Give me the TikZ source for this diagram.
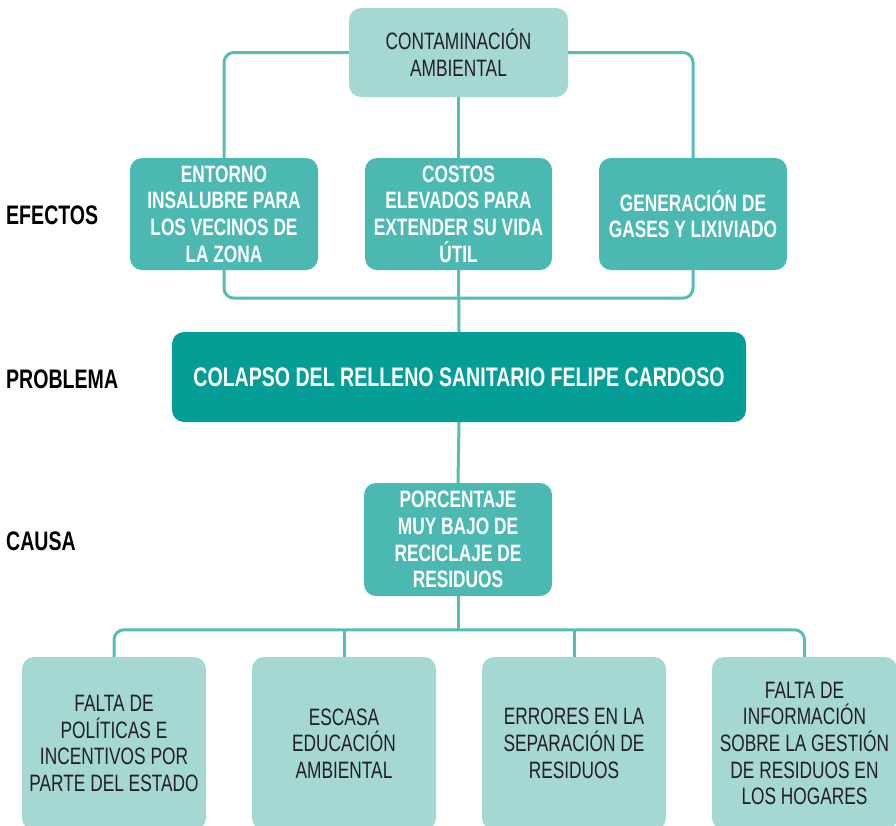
\documentclass[tikz,border=0pt]{standalone}
\usepackage{fontspec}
\setmainfont{Liberation Sans}[FakeStretch=0.73]
\definecolor{lightteal}{HTML}{A6D8D3}
\definecolor{midteal}{HTML}{4BB9B2}
\definecolor{darkteal}{HTML}{049E96}
\definecolor{linecol}{HTML}{56BDB6}
\definecolor{darktext}{HTML}{231F20}
\begin{document}
\begin{tikzpicture}[x=1pt,y=-1pt,
  box/.style={rounded corners=12pt, inner sep=0pt, align=center},
  lightbox/.style={box, fill=lightteal, text=darktext, font=\fontsize{23.7}{26.7}\selectfont},
  effbox/.style={box, fill=midteal, text=white, font=\bfseries\fontsize{23.7}{26.7}\selectfont},
  probbox/.style={box, fill=darkteal, text=white, font=\bfseries\fontsize{26.8}{30}\selectfont},
  sidelabel/.style={anchor=west, inner sep=0pt, text=black, font=\bfseries\fontsize{26.8}{30}\selectfont},
  conn/.style={draw=linecol, line width=3pt, rounded corners=10pt}]
\useasboundingbox (0,0) rectangle (896,825);

% side labels
\node[sidelabel] (lefe) at (6,215) {EFECTOS};
\node[sidelabel] (lprob) at (6,379) {PROBLEMA};
\node[sidelabel] (lcau) at (6,541) {CAUSA};

% top
\node[lightbox, minimum width=219pt, minimum height=89pt] (top) at (458.5,52.5) {CONTAMINACIÓN\\AMBIENTAL};

% effects
\node[effbox, minimum width=188pt, minimum height=112pt] (e1) at (224,214) {ENTORNO\\INSALUBRE PARA\\LOS VECINOS DE\\LA ZONA};
\node[effbox, minimum width=187pt, minimum height=112pt] (e2) at (458.5,214) {COSTOS\\ELEVADOS PARA\\EXTENDER SU VIDA\\ÚTIL};
\node[effbox, minimum width=188pt, minimum height=112pt] (e3) at (693,214) {GENERACIÓN DE\\GASES Y LIXIVIADO};

% problem
\node[probbox, minimum width=574pt, minimum height=90pt] (prob) at (459,377) {COLAPSO DEL RELLENO SANITARIO FELIPE CARDOSO};

% cause
\node[effbox, minimum width=188pt, minimum height=113pt] (cause) at (458,539.5) {PORCENTAJE\\MUY BAJO DE\\RECICLAJE DE\\RESIDUOS};

% bottom causes
\node[lightbox, minimum width=184pt, minimum height=173pt] (b1) at (114,743.5) {FALTA DE\\POLÍTICAS E\\INCENTIVOS POR\\PARTE DEL ESTADO};
\node[lightbox, minimum width=184pt, minimum height=173pt] (b2) at (344,743.5) {ESCASA\\EDUCACIÓN\\AMBIENTAL};
\node[lightbox, minimum width=184pt, minimum height=173pt] (b3) at (574,743.5) {ERRORES EN LA\\SEPARACIÓN DE\\RESIDUOS};
\node[lightbox, minimum width=185pt, minimum height=173pt] (b4) at (804.5,743.5) {FALTA DE\\INFORMACIÓN\\SOBRE LA GESTIÓN\\DE RESIDUOS EN\\LOS HOGARES};

% connectors
\draw[conn] (top.west) -| (e1.north);
\draw[conn] (top.east) -| (e3.north);
\draw[conn] (top.south) -- (e2.north);
\draw[conn] (e1.south) -- ++(0,28) -| (e3.south);
\draw[conn] (e2.south) -- (prob.north);
\draw[conn] (prob.south) -- (cause.north);
\coordinate (hub) at (cause.south |- 0,630);
\draw[conn] (cause.south) -- (hub);
\draw[conn] (b1.north) -- ++(0,-27) -| (b4.north);
\draw[conn] (b2.north) -- (b2.north |- hub);
\draw[conn] (b3.north) -- (b3.north |- hub);
\end{tikzpicture}
\end{document}
